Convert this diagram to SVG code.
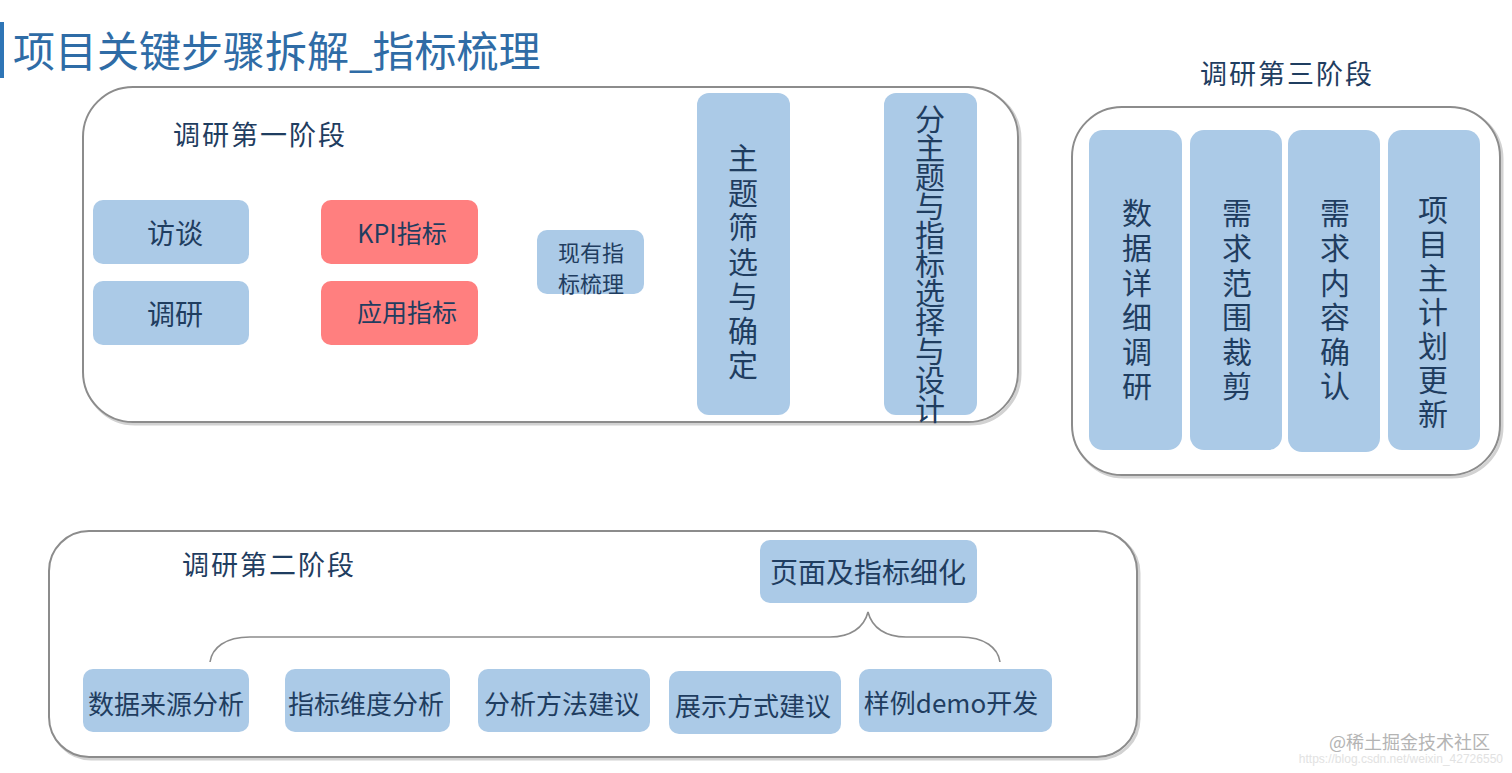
<svg xmlns="http://www.w3.org/2000/svg" width="1512" height="773" viewBox="0 0 1512 773">
<defs>
<style>
.cont{fill:#fff;stroke:#8c8c8c;stroke-width:2}
.shad{fill:none;stroke:#d2d2d2;stroke-width:3}
.blue{fill:#abcae7}
.red{fill:#ff7f7f}
.t{font-family:"Noto Sans CJK SC","Liberation Sans",sans-serif;fill:#1f3d60;text-anchor:middle;dominant-baseline:central}
.v{font-family:"Noto Sans CJK SC",sans-serif;fill:#1f3d60;font-size:30px;writing-mode:vertical-rl;text-anchor:start}
.lbl{font-family:"Noto Sans CJK SC",sans-serif;fill:#1f3d60;font-size:27px;letter-spacing:2px;dominant-baseline:central}
.brace{fill:none;stroke:#8c8c8c;stroke-width:1.6}
</style>
</defs>
<rect width="1512" height="773" fill="#fff"/>
<g id="title">
<rect x="0" y="22" width="4" height="56" fill="#2e75b6"/>
<text x="13" y="48" font-family="Noto Sans CJK SC, sans-serif" font-size="42" fill="#2f6ca6" dominant-baseline="central">项目关键步骤拆解_指标梳理</text>
</g>
<g id="stage1">
<rect class="shad" x="85" y="89" width="935" height="335" rx="50"/>
<rect class="cont" x="83" y="87" width="935" height="335" rx="50"/>
<text class="lbl" x="173" y="133">调研第一阶段</text>
</g>
<g id="stage3">
<text class="lbl" x="1200" y="72">调研第三阶段</text>
<rect class="shad" x="1074" y="109" width="428" height="368" rx="50"/>
<rect class="cont" x="1072" y="107" width="428" height="368" rx="50"/>
</g>
<g id="stage2">
<rect class="shad" x="51" y="533" width="1088" height="226" rx="40"/>
<rect class="cont" x="49" y="531" width="1088" height="226" rx="40"/>
<text class="lbl" x="182" y="563">调研第二阶段</text>
</g>
<g id="connectors">
<path class="brace" d="M210,662 C212,648 225,637 250,637 L830,637 C850,637 864,628 868,612 C872,628 886,637 906,637 L960,637 C985,637 998,648 1000,662"/>
</g>
<g id="n-fangtan"><rect class="blue" x="93" y="200" width="156" height="64" rx="10"/><text class="t" x="175" y="232" font-size="28">访谈</text></g>
<g id="n-diaoyan"><rect class="blue" x="93" y="281" width="156" height="64" rx="10"/><text class="t" x="175" y="313" font-size="28">调研</text></g>
<g id="n-kpi"><rect class="red" x="321" y="200" width="157" height="64" rx="10"/><text class="t" x="402" y="232" font-size="25">KPI指标</text></g>
<g id="n-yingyong"><rect class="red" x="321" y="281" width="157" height="64" rx="10"/><text class="t" x="407" y="311" font-size="25">应用指标</text></g>
<g id="n-xianyou"><rect class="blue" x="537" y="230" width="107" height="64" rx="10"/><text class="t" font-size="22"><tspan x="591" y="251">现有指</tspan><tspan x="591" y="282">标梳理</tspan></text></g>
<g id="n-zhuti"><rect class="blue" x="697" y="93" width="93" height="322" rx="12"/>
<text class="v" x="743" y="143" letter-spacing="4.5">主题筛选与确定</text></g>
<g id="n-fenzhuti"><rect class="blue" x="884" y="93" width="93" height="322" rx="12"/>
<text class="v" x="930" y="104" font-size="29" letter-spacing="-1">分主题与指标选择与设计</text></g>
<g id="n-shuju"><rect class="blue" x="1089" y="130" width="93" height="320" rx="14"/>
<text class="v" x="1137" y="198" letter-spacing="4.6">数据详细调研</text></g>
<g id="n-xuqiufanwei"><rect class="blue" x="1190" y="130" width="92" height="320" rx="14"/>
<text class="v" x="1237" y="198" letter-spacing="4.6">需求范围裁剪</text></g>
<g id="n-xuqiuneirong"><rect class="blue" x="1288" y="130" width="92" height="322" rx="14"/>
<text class="v" x="1335" y="198" letter-spacing="4.6">需求内容确认</text></g>
<g id="n-xiangmu"><rect class="blue" x="1388" y="130" width="92" height="320" rx="14"/>
<text class="v" x="1433" y="195" letter-spacing="4">项目主计划更新</text></g>
<g id="n-yemian"><rect class="blue" x="760" y="540" width="217" height="63" rx="10"/><text class="t" x="868" y="571" font-size="28">页面及指标细化</text></g>
<g id="n-laiyuan"><rect class="blue" x="83" y="669" width="166" height="63" rx="10"/><text class="t" x="166" y="702" font-size="26">数据来源分析</text></g>
<g id="n-weidu"><rect class="blue" x="285" y="669" width="165" height="63" rx="10"/><text class="t" x="366" y="702" font-size="26">指标维度分析</text></g>
<g id="n-fangfa"><rect class="blue" x="478" y="669" width="172" height="63" rx="10"/><text class="t" x="562" y="702" font-size="26">分析方法建议</text></g>
<g id="n-zhanshi"><rect class="blue" x="669" y="671" width="172" height="63" rx="10"/><text class="t" x="753" y="704" font-size="26">展示方式建议</text></g>
<g id="n-demo"><rect class="blue" x="859" y="669" width="193" height="63" rx="10"/><text class="t" x="951" y="701" font-size="26">样例demo开发</text></g>
<g id="watermark">
<text x="1490" y="741" font-family="Noto Sans CJK SC, sans-serif" font-size="18" fill="#b4b4b4" text-anchor="end" dominant-baseline="central">@稀土掘金技术社区</text>
<text x="1503" y="759" font-family="Liberation Sans, sans-serif" font-size="12" fill="#e2e2e2" text-anchor="end" dominant-baseline="central">https://blog.csdn.net/weixin_42726550</text>
</g>
</svg>
